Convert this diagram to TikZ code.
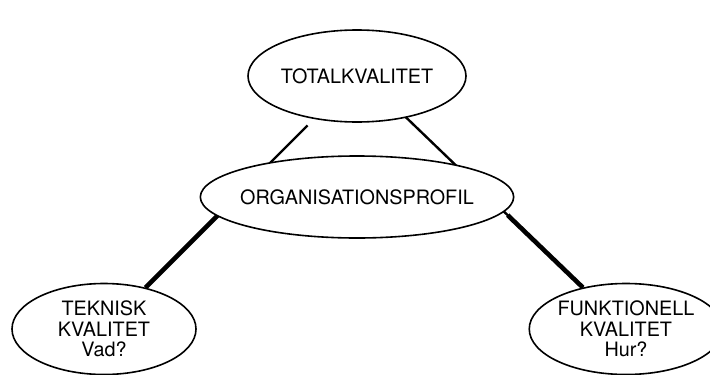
\documentclass[tikz,border=0pt]{standalone}
\usepackage{fontspec}
\setmainfont{TeX Gyre Heros}
\usepackage{tikz}
\usetikzlibrary{shapes.geometric}
\usetikzlibrary{backgrounds,calc}

\begin{document}
\begin{tikzpicture}
	[x=1pt, y=1pt, main/.style = {draw, ellipse, fill=white, line width=1.6pt, inner sep=0pt, align=center, font=\fontsize{19.8}{20.5}\selectfont}, link/.style = {line width=2.4pt, shorten <=9pt}]
	\useasboundingbox (0,0) rectangle (710,-375);
	\node[main, minimum width=218pt, minimum height=92pt] (1) at (357,-76) {TOTALKVALITET};
	\node[main, minimum width=309pt, minimum height=82pt, inner xsep=-6pt] (2) [below of = 1, node distance={121pt}] {ORGANISATIONSPROFIL};
	\node[main, minimum width=184pt, minimum height=91pt] (3) [below of = 2, xshift=-253pt, node distance={132pt}] {TEKNISK\\KVALITET\\Vad?};
	\node[main, minimum width=184pt, minimum height=91pt] (4) [below of = 2, xshift=269pt, node distance={132pt}] {FUNKTIONELL\\KVALITET\\Hur?};
	\begin{scope}[on background layer]
		\draw[link] (1) -- (3);
		\draw[link] ([xshift=6pt]1.center) -- (4);
		\draw[line width=4.6pt] ($(1)!.55!(3)$) -- (3);
		\draw[line width=4.6pt] ($([xshift=6pt]1.center)!.55!(4)$) -- (4);
	\end{scope}
\end{tikzpicture}
\end{document}
